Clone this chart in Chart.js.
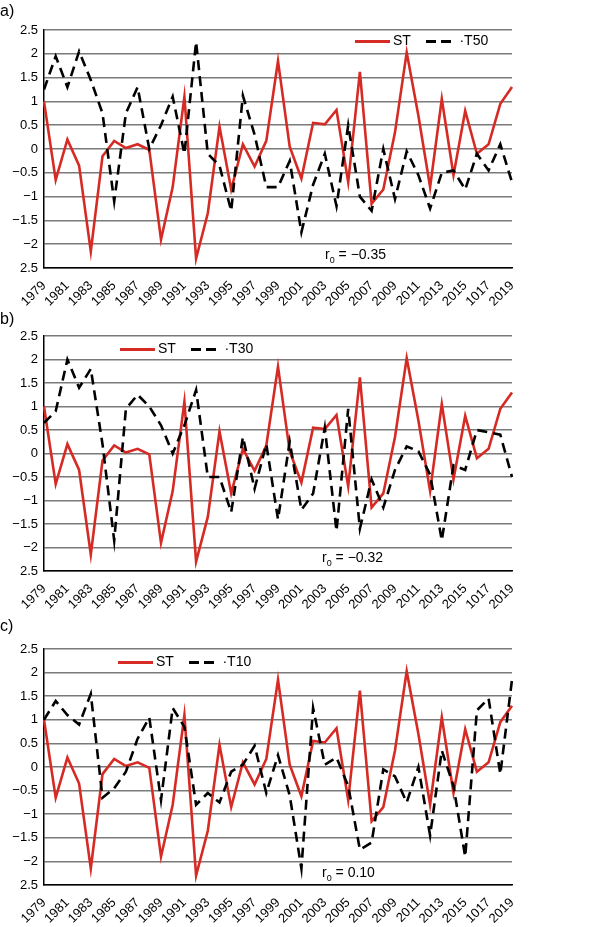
<!DOCTYPE html>
<html><head><meta charset="utf-8">
<script src="https://cdn.jsdelivr.net/npm/chart.js@4"></script>
<style>
body{margin:0;background:#fff;font-family:"Liberation Sans",Arial,sans-serif;}
.w{position:absolute;left:0;width:593px;}
.t{position:absolute;font-size:14px;color:#000;white-space:nowrap;}
.lab{position:absolute;font-size:16px;}
.red{display:inline-block;width:35px;border-top:3px solid #d62b24;vertical-align:middle;margin-right:3px;}
.dsh{display:inline-block;width:30px;height:3px;vertical-align:middle;margin-right:3px;background:repeating-linear-gradient(90deg,#000 0 10px,transparent 10px 15px);}
sub{font-size:9px;}
</style></head><body>
<div class="w" style="top:0;height:308px"><canvas id="ca"></canvas></div>
<div class="w" style="top:300px;height:311px"><canvas id="cb"></canvas></div>
<div class="w" style="top:610px;height:317px"><canvas id="cc"></canvas></div>
<div class="lab" style="left:0;top:2px">a)</div>
<div class="lab" style="left:0;top:310px">b)</div>
<div class="lab" style="left:0;top:617px">c)</div>
<div class="t" style="left:355px;top:32px"><span class="red"></span>ST&nbsp;&nbsp;&nbsp;&nbsp;<span class="dsh"></span>·T50</div>
<div class="t" style="left:120px;top:340px"><span class="red"></span>ST&nbsp;&nbsp;&nbsp;&nbsp;<span class="dsh"></span>·T30</div>
<div class="t" style="left:118px;top:653px"><span class="red"></span>ST&nbsp;&nbsp;&nbsp;&nbsp;<span class="dsh"></span>·T10</div>
<div class="t" style="left:325px;top:246px">r<sub>0</sub> = −0.35</div>
<div class="t" style="left:322px;top:549px">r<sub>0</sub> = −0.32</div>
<div class="t" style="left:322px;top:864px">r<sub>0</sub> = 0.10</div>
<script>
const years=[];for(let y=1979;y<=2019;y++)years.push(String(y));
const tickLabels=years.map(y=>y==="2017"?"1017":y);
const ST=[1.0,-0.65,0.2,-0.35,-2.15,-0.15,0.17,0.02,0.1,-0.02,-1.9,-0.8,1.1,-2.3,-1.35,0.47,-0.85,0.1,-0.37,0.17,1.85,0.05,-0.62,0.55,0.52,0.82,-0.7,1.62,-1.15,-0.85,0.35,2.03,0.7,-0.8,1.05,-0.55,0.8,-0.1,0.1,0.95,1.3];
const T50=[1.25,1.95,1.3,2.05,1.45,0.75,-1.1,0.75,1.3,0.0,0.5,1.1,-0.1,2.25,-0.1,-0.35,-1.3,1.12,0.3,-0.8,-0.8,-0.25,-1.75,-0.75,-0.1,-1.2,0.5,-1.0,-1.3,0.0,-1.05,-0.05,-0.55,-1.25,-0.5,-0.45,-0.85,-0.1,-0.45,0.1,-0.7];
const T30=[0.65,0.9,2.0,1.4,1.8,0.2,-1.85,0.95,1.25,1.0,0.6,0.0,0.6,1.35,-0.5,-0.5,-1.25,0.35,-0.75,0.2,-1.4,0.25,-1.2,-0.85,0.55,-1.65,0.95,-1.6,-0.55,-1.15,-0.35,0.15,0.05,-0.45,-1.85,-0.25,-0.35,0.5,0.45,0.4,-0.5];
const T10=[1.0,1.4,1.1,0.9,1.55,-0.65,-0.45,-0.1,0.6,1.05,-0.7,1.25,0.85,-0.8,-0.55,-0.75,-0.1,0.05,0.45,-0.55,0.25,-0.6,-2.15,1.25,0.05,0.2,-0.4,-1.75,-1.6,-0.05,-0.2,-0.75,0.0,-1.45,0.35,-0.4,-1.9,1.2,1.45,-0.15,1.85];
function fmt(v){if(Math.abs(v+2.5)<1e-6)return "2.5";const s=String(Math.abs(Math.round(v*10)/10));return v<-1e-9?"−"+s:s;}
function make(id,tser,top,xh){
  new Chart(document.getElementById(id),{type:'line',
    data:{labels:tickLabels,datasets:[
      {data:tser,borderColor:'#000',borderWidth:2.6,borderDash:[10,6],pointRadius:0,tension:0},
      {data:ST,borderColor:'#d62b24',borderWidth:2.6,pointRadius:0,tension:0}]},
    options:{responsive:true,maintainAspectRatio:false,animation:false,
      layout:{padding:{top:top,right:81,left:0,bottom:0}},
      plugins:{legend:{display:false},tooltip:{enabled:false}},
      scales:{
        x:{offset:false,grid:{display:false},border:{color:'#000',width:1.5},
          afterFit:s=>{s.height=xh;},
          ticks:{autoSkip:false,maxRotation:45,minRotation:45,padding:2,color:'#000',font:{family:'Liberation Sans',size:13},
            callback:(v,i)=>i%2===0?tickLabels[i]:''}},
        y:{min:-2.5,max:2.5,afterFit:s=>{s.width=44;},
          grid:{color:'#7a7a7a',lineWidth:1.5,drawTicks:false},border:{color:'#000',width:1.5},
          ticks:{stepSize:0.5,padding:6,color:'#000',font:{family:'Liberation Sans',size:13},callback:v=>fmt(v)}}}}});
}
make('ca',T50,30,40);
make('cb',T30,36,40);
make('cc',T10,39,42);
</script></body></html>
